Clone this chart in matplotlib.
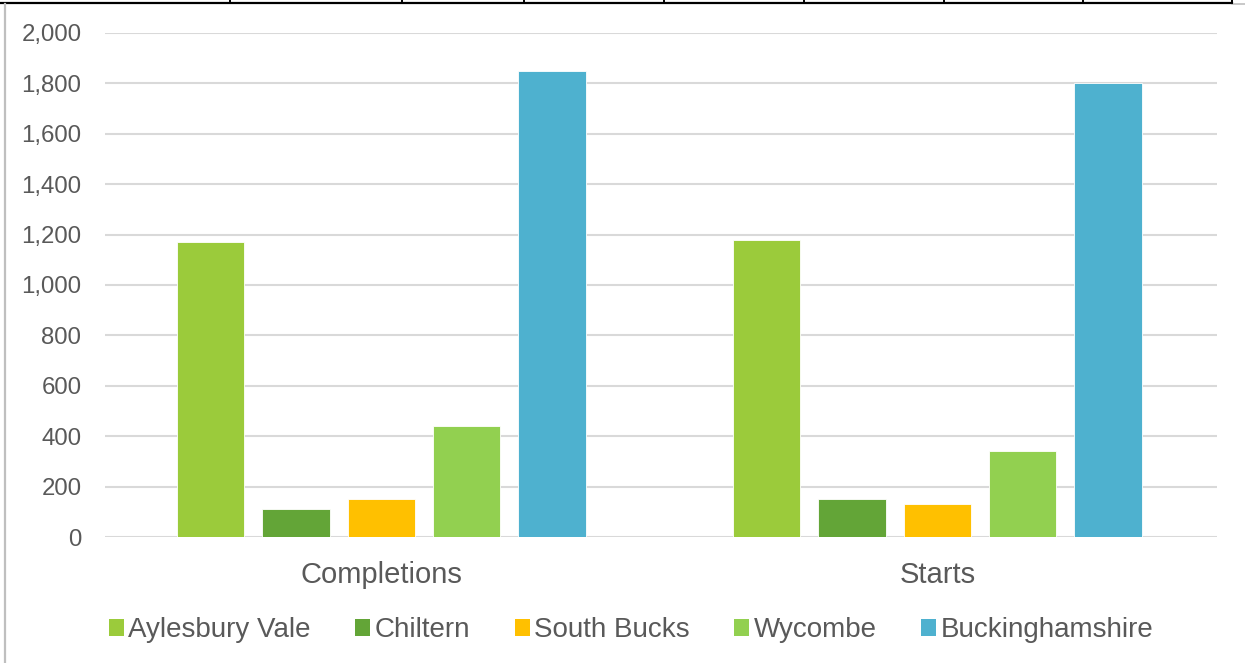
import matplotlib
matplotlib.use("Agg")
import matplotlib.pyplot as plt
import numpy as np
from matplotlib.lines import Line2D
from matplotlib.patches import Patch

categories = ["Completions", "Starts"]
series_names = ["Aylesbury Vale", "Chiltern", "South Bucks", "Wycombe", "Buckinghamshire"]
aylesbury_vale = [1170, 1180]
chiltern = [110, 150]
south_bucks = [150, 130]
wycombe = [440, 340]
buckinghamshire = [1850, 1800]
y_ticks = [0, 200, 400, 600, 800, 1000, 1200, 1400, 1600, 1800, 2000]

series_values = [aylesbury_vale, chiltern, south_bucks, wycombe, buckinghamshire]
colors = ["#9BCB3B", "#63A537", "#FFC000", "#92D050", "#4EB1CF"]

plt.rcParams['font.family'] = ['Liberation Sans', 'DejaVu Sans']

W, H = 1245, 663
fig = plt.figure(figsize=(W / 100, H / 100), dpi=100)
ax = fig.add_axes([105 / W, 1 - 537 / H, (1217 - 105) / W, (537 - 33) / H])

x = np.arange(len(categories))
step = 0.1535
width = 0.121
n = len(series_names)
for i, (name, vals, c) in enumerate(zip(series_names, series_values, colors)):
    off = (i - (n - 1) / 2) * step
    ax.bar(x + off, vals, width=width, color=c, edgecolor="white", linewidth=0.6,
           label=name, zorder=3)

ax.set_xlim(-0.497, 1.503)
ax.set_ylim(0, 2000)
ax.set_yticks(y_ticks)
ax.set_yticklabels([f"{v:,}" for v in y_ticks])
ax.set_xticks(x)
ax.set_xticklabels(categories)
ax.grid(axis="y", color="#D9D9D9", linewidth=1.5, zorder=0)
for s in ax.spines.values():
    s.set_visible(False)
ax.tick_params(axis="y", length=0, pad=17, labelsize=17.3, labelcolor="#595959")
ax.tick_params(axis="x", length=0, pad=17, labelsize=21, labelcolor="#595959")

handles = [Patch(facecolor=c, edgecolor="none") for c in colors]
leg = fig.legend(handles, series_names, loc="center", bbox_to_anchor=(631 / W, 1 - 630 / H),
                 ncol=5, frameon=False, fontsize=20, handlelength=0.55, handleheight=0.55,
                 handletextpad=0.15, columnspacing=1.6, labelcolor="#595959")

# page decorations: table border at top and left gray rule
fig.add_artist(Line2D([0, 1232 / W], [1 - 2.5 / H, 1 - 2.5 / H], color="black", linewidth=1.6,
                      transform=fig.transFigure))
fig.add_artist(Line2D([1232 / W, 1], [1 - 4 / H, 1 - 4 / H], color="#BFBFBF", linewidth=1.2,
                      transform=fig.transFigure))
for tx in [230, 402, 524, 664, 804, 944, 1083, 1232]:
    fig.add_artist(Line2D([tx / W, tx / W], [1, 1 - 3 / H], color="black", linewidth=1.4,
                          transform=fig.transFigure))
fig.add_artist(Line2D([5 / W, 5 / W], [0, 1 - 4 / H], color="#BFBFBF", linewidth=1.6,
                      transform=fig.transFigure))

fig.savefig("out.png", dpi=100, facecolor="white")
